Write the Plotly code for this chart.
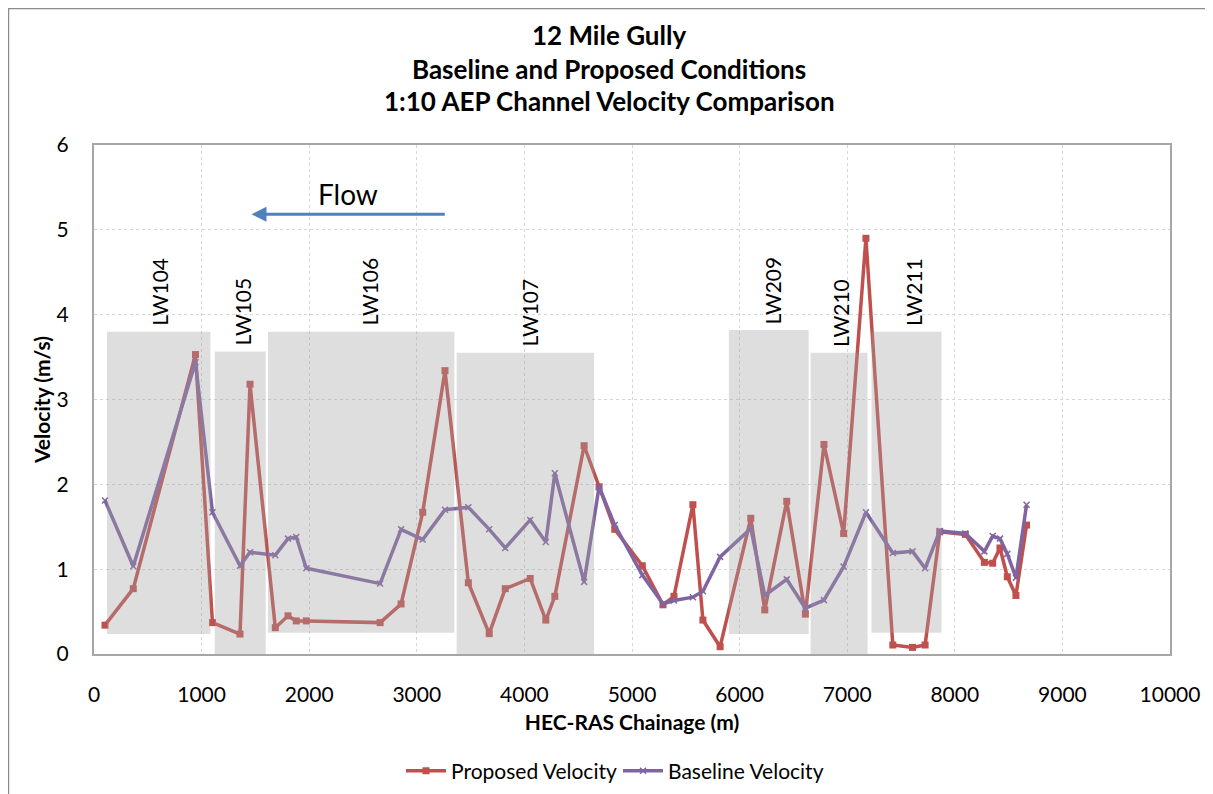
import plotly.graph_objects as go

# ---- data ----
chainage = [102, 365, 943, 1101, 1357, 1450, 1685, 1803, 1880, 1973, 2659, 2854,
            3055, 3262, 3479, 3673, 3822, 4054, 4199, 4283, 4555, 4694, 4840, 5096,
            5288, 5390, 5566, 5659, 5819, 6104, 6234, 6438, 6611, 6784, 6967, 7174,
            7424, 7607, 7724, 7860, 8098, 8275, 8352, 8420, 8488, 8568, 8667]
proposed_velocity = [0.34, 0.77, 3.53, 0.37, 0.235, 3.18, 0.31, 0.45, 0.39, 0.39, 0.37, 0.59,
                     1.67, 3.34, 0.84, 0.24, 0.77, 0.89, 0.40, 0.68, 2.455, 1.97, 1.47, 1.04,
                     0.58, 0.68, 1.76, 0.40, 0.086, 1.60, 0.52, 1.80, 0.47, 2.47, 1.42, 4.90,
                     0.106, 0.078, 0.106, 1.44, 1.41, 1.08, 1.07, 1.25, 0.91, 0.69, 1.52]
baseline_velocity = [1.81, 1.035, 3.44, 1.67, 1.04, 1.20, 1.165, 1.36, 1.38, 1.01, 0.83, 1.47,
                     1.35, 1.70, 1.73, 1.47, 1.25, 1.58, 1.32, 2.13, 0.85, 1.97, 1.52, 0.93,
                     0.59, 0.63, 0.67, 0.74, 1.145, 1.48, 0.69, 0.88, 0.54, 0.635, 1.03, 1.67,
                     1.19, 1.21, 1.01, 1.45, 1.42, 1.21, 1.39, 1.36, 1.18, 0.90, 1.76]

# longwall panel zones
panel_names = ["LW104", "LW105", "LW106", "LW107", "LW209", "LW210", "LW211"]
panel_start = [121, 1122, 1617, 3370, 5900, 6660, 7226]
panel_end = [1082, 1596, 3349, 4648, 6642, 7189, 7876]
panel_bottom = [0.235, 0.0, 0.25, 0.0, 0.235, 0.0, 0.25]
panel_top = [3.80, 3.565, 3.80, 3.55, 3.82, 3.55, 3.80]
panel_label_x = [613, 1383, 2563, 4048, 6305, 6942, 7623]

x_ticks = [0, 1000, 2000, 3000, 4000, 5000, 6000, 7000, 8000, 9000, 10000]
y_ticks = [0, 1, 2, 3, 4, 5, 6]

title_lines = ["12 Mile Gully", "Baseline and Proposed Conditions",
               "1:10 AEP Channel Velocity Comparison"]

FONT = "Lato"
RED = "#C0504D"
PURPLE = "#8064A2"

fig = go.Figure()
fig.add_trace(go.Scatter(
    x=chainage, y=proposed_velocity, mode="lines+markers", name="Proposed Velocity",
    line=dict(color=RED, width=3.5),
    marker=dict(symbol="square", size=7, color=RED)))
fig.add_trace(go.Scatter(
    x=chainage, y=baseline_velocity, mode="lines+markers", name="Baseline Velocity",
    line=dict(color=PURPLE, width=3.5),
    marker=dict(symbol="x-thin", size=6, color=PURPLE, line=dict(color=PURPLE, width=1.5))))

shapes = []
annotations = []
for name, x0, x1, y0, y1, lx in zip(panel_names, panel_start, panel_end,
                                     panel_bottom, panel_top, panel_label_x):
    shapes.append(dict(type="rect", xref="x", yref="y", x0=x0, x1=x1, y0=y0, y1=y1,
                       fillcolor="rgb(160,160,160)", opacity=0.35, line=dict(width=0),
                       layer="above"))
    annotations.append(dict(x=lx, y=y1 + 0.47, xref="x", yref="y", text=name,
                            textangle=-90, showarrow=False,
                            font=dict(family=FONT, size=21, color="black")))

# outer chart border
shapes.append(dict(type="rect", xref="paper", yref="paper", x0=-0.0795, x1=1.07,
                   y0=-0.35, y1=1.2682, line=dict(color="#8c8c8c", width=1.5),
                   fillcolor="rgba(0,0,0,0)", layer="below"))

# title lines
for t, yp in zip(title_lines, [1.216, 1.149, 1.0866]):
    annotations.append(dict(x=0.479, y=yp, xref="paper", yref="paper", text="<b>%s</b>" % t,
                            showarrow=False, xanchor="center", yanchor="middle",
                            font=dict(family=FONT, size=26, color="black")))

# flow arrow
annotations.append(dict(x=1464, y=5.185, ax=3274, ay=5.185, xref="x", yref="y",
                        axref="x", ayref="y", text="", showarrow=True,
                        arrowhead=2, arrowsize=1.0, arrowwidth=3, arrowcolor="#4F81BD"))
annotations.append(dict(x=2358, y=5.42, xref="x", yref="y", text="Flow", showarrow=False,
                        font=dict(family=FONT, size=28, color="black")))

fig.update_layout(
    width=1205, height=786,
    margin=dict(l=86, r=43, t=137, b=140),
    paper_bgcolor="white", plot_bgcolor="white",
    font=dict(family=FONT, size=21, color="black"),
    showlegend=True,
    legend=dict(orientation="h", x=0.487, y=0.003, yref="container",
                xanchor="center", yanchor="bottom",
                font=dict(family=FONT, size=21, color="black"), itemwidth=40,
                entrywidth=162, entrywidthmode="pixels", tracegroupgap=0),
    shapes=shapes, annotations=annotations,
)
fig.update_xaxes(range=[0, 10000], tickvals=x_ticks, ticktext=[str(v) for v in x_ticks],
                 tickfont=dict(family=FONT, size=21),
                 showgrid=True, gridcolor="#d6d6d6", griddash="dot", gridwidth=1,
                 showline=True, linecolor="#a6a6a6", linewidth=2, mirror=True,
                 ticks="", ticklabelstandoff=21, zeroline=False, automargin=False,
                 title=dict(text="<b>HEC-RAS Chainage (m)</b>", standoff=10,
                            font=dict(family=FONT, size=21)))
fig.update_yaxes(range=[0, 6], tickvals=y_ticks, ticktext=[str(v) for v in y_ticks],
                 tickfont=dict(family=FONT, size=21),
                 showgrid=True, gridcolor="#d6d6d6", griddash="dot", gridwidth=1,
                 showline=True, linecolor="#a6a6a6", linewidth=2, mirror=True,
                 ticks="", ticklabelstandoff=19, zeroline=False, automargin=False,
                 title=dict(text="<b>Velocity (m/s)</b>", standoff=0,
                            font=dict(family=FONT, size=21)))

fig.write_html("out.html")
